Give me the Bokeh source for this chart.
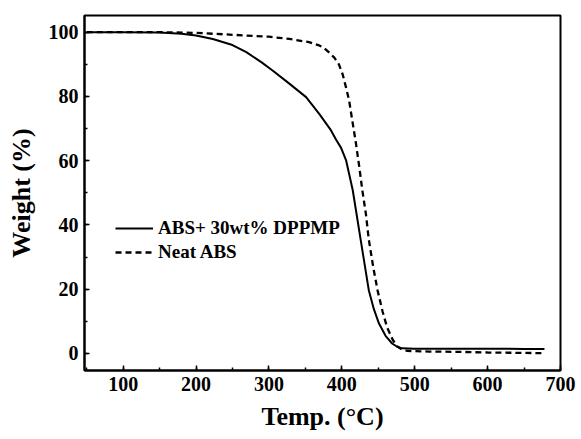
from bokeh.plotting import figure
from bokeh.models import SingleIntervalTicker, Legend, LegendItem
from bokeh.embed import file_html
from bokeh.resources import INLINE

# ABS + 30wt% DPPMP (solid)
temp_blend = [50, 100, 150, 180, 200, 223, 250, 269, 290, 305, 328, 351, 369, 385,
              392, 399, 406, 415, 426, 437, 444, 451, 460, 469, 476, 483, 500, 550,
              600, 650, 678]
weight_blend = [100, 100, 99.9, 99.5, 99.0, 97.9, 96.0, 93.8, 90.6, 88.1, 84.0, 79.8,
                74.6, 69.5, 66.6, 64.0, 60.0, 50.8, 35.2, 19.7, 13.8, 9.3, 5.5, 3.1,
                2.1, 1.6, 1.5, 1.5, 1.5, 1.4, 1.4]

# Neat ABS (dashed)
temp_neat = [50, 100, 150, 200, 250, 300, 328, 355, 369, 376, 383, 390, 396, 401, 405,
             410, 414, 419, 424, 428, 433, 437, 443, 449, 456, 462, 470, 476, 483, 490,
             520, 560, 600, 640, 678]
weight_neat = [100, 100, 100, 99.8, 99.2, 98.6, 97.9, 96.9, 95.9, 95.0, 93.6, 92.0,
               90.0, 87.0, 83.5, 78.8, 73.0, 66.0, 58.0, 51.0, 43.5, 35.5, 27.0, 19.7,
               13.0, 8.2, 4.2, 2.2, 1.2, 0.8, 0.6, 0.5, 0.3, 0.2, 0.1]

label_blend = "ABS+ 30wt% DPPMP"
label_neat = "Neat ABS"
x_title = "Temp. (\u00b0C)"
y_title = "Weight (%)"

FONT = "Liberation Serif"

p = figure(width=581, height=439, x_range=(47, 700), y_range=(-5.3, 105.2),
           output_backend="svg", toolbar_location=None,
           min_border_left=84, min_border_right=21, min_border_top=15,
           min_border_bottom=69)

p.xgrid.visible = False
p.ygrid.visible = False
p.outline_line_color = "black"
p.outline_line_width = 2
p.background_fill_color = "white"
p.border_fill_color = "white"

r1 = p.line(temp_blend, weight_blend, line_color="black", line_width=2)
r2 = p.line(temp_neat, weight_neat, line_color="black", line_width=2.3, line_dash="6 4")

p.xaxis.ticker = SingleIntervalTicker(interval=100, num_minor_ticks=2)
p.yaxis.ticker = SingleIntervalTicker(interval=20, num_minor_ticks=2)

for ax in (p.xaxis[0], p.yaxis[0]):
    ax.axis_line_width = 2
    ax.axis_line_color = "black"
    ax.major_tick_in = 5
    ax.major_tick_out = 0
    ax.minor_tick_in = 3
    ax.minor_tick_out = 0
    ax.major_tick_line_width = 1.5
    ax.minor_tick_line_width = 1.5
    ax.major_label_text_font = FONT
    ax.major_label_text_font_style = "bold"
    ax.major_label_text_font_size = "20px"
    ax.major_label_text_color = "black"
    ax.axis_label_text_font = FONT
    ax.axis_label_text_font_style = "bold"
    ax.axis_label_text_font_size = "26px"
    ax.axis_label_text_color = "black"

p.xaxis.axis_label = x_title
p.yaxis.axis_label = y_title
p.xaxis.major_label_standoff = 6
p.xaxis.axis_label_standoff = 8
p.yaxis.major_label_standoff = 6
p.yaxis.axis_label_standoff = 10

legend = Legend(items=[LegendItem(label=label_blend, renderers=[r1]),
                       LegendItem(label=label_neat, renderers=[r2])],
                location=(31, 107))
legend.border_line_color = None
legend.background_fill_alpha = 0
legend.padding = 0
legend.margin = 0
legend.spacing = 2
legend.glyph_width = 38
legend.glyph_height = 20
legend.label_height = 20
legend.label_standoff = 5
legend.label_text_font = FONT
legend.label_text_font_style = "bold"
legend.label_text_font_size = "19px"
legend.label_text_color = "black"
p.add_layout(legend, "center")

open("out.html", "w").write(file_html(p, INLINE))
